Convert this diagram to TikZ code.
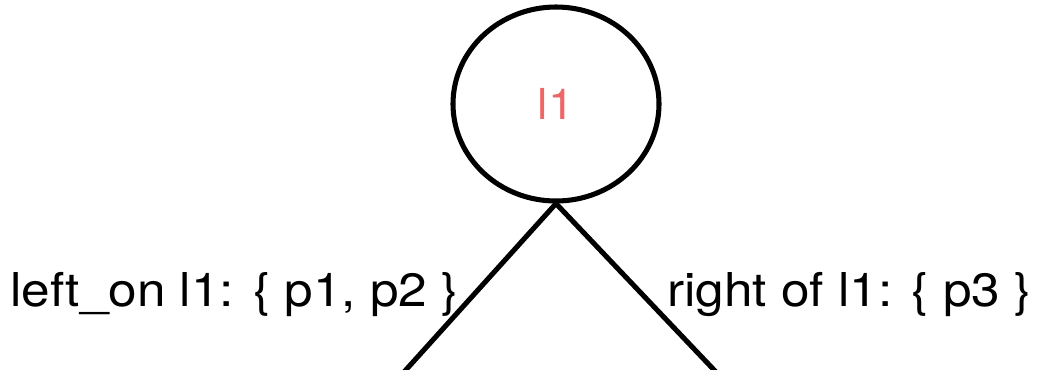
\documentclass[tikz,border=0pt]{standalone}
\usepackage{fontspec}
\setmainfont{TeX Gyre Heros}
\usetikzlibrary{shapes.geometric}
\definecolor{lred}{RGB}{238,102,102}
\newcommand{\widen}[1]{\scalebox{1.1}[1]{#1}}
\begin{document}
\begin{tikzpicture}[x=0.75pt,y=-0.75pt,
  edge/.style={line width=3.8pt},
  lbl/.style={font=\fontsize{35}{40}\selectfont, inner sep=0pt, anchor=base west}]
\useasboundingbox (0,0) rectangle (1039,369);
\node[draw, line width=3.8pt, ellipse, minimum width=206*0.75pt, minimum height=194*0.75pt, inner sep=0pt, text=lred, font=\fontsize{32}{36}\selectfont] (l1) at (556,104) {\widen{l1}};
\coordinate (bl) at (404,372);
\coordinate (br) at (716,372);
\draw[edge] (l1.south) -- (bl);
\draw[edge] (l1.south) -- (br);
\node[lbl] (left) at (10,306) {\widen{left\_on l1: \{ p1, p2 \}}};
\node[lbl] (right) at (667,306) {\widen{right of l1: \{ p3 \}}};
\end{tikzpicture}
\end{document}
